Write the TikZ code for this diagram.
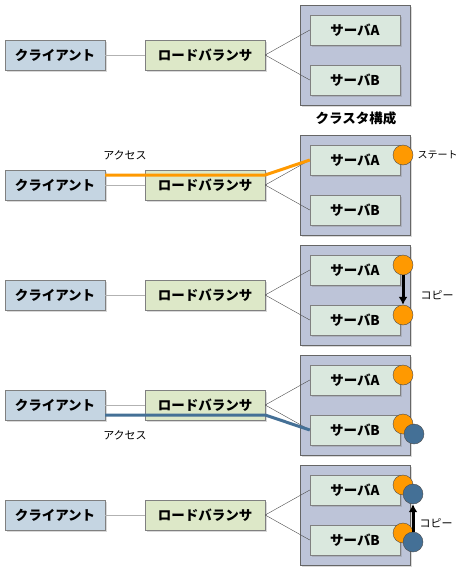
\documentclass[tikz,border=0pt]{standalone}
\usepackage{fontspec}
\setmainfont{Noto Sans CJK JP}
\usetikzlibrary{positioning, shadows, arrows.meta}

\definecolor{clientblue}{RGB}{197,213,226}
\definecolor{lbgreen}{RGB}{221,232,200}
\definecolor{servergreen}{RGB}{218,232,222}
\definecolor{clustergray}{RGB}{189,196,216}
\definecolor{stateorange}{RGB}{255,153,0}
\definecolor{stateblue}{RGB}{68,112,150}

\begin{document}
\begin{tikzpicture}[x=1pt, y=-1pt]
        \tikzstyle{box}=[rectangle, draw=gray, minimum height=30pt, font=\fontsize{13.5}{15}\selectfont\bfseries, drop shadow={shadow xshift=1.5pt, shadow yshift=-1.5pt, opacity=0.3}];
        \tikzstyle{state}=[circle, draw=black!70, minimum size=20pt, inner sep=0pt];
        \tikzstyle{label}=[font=\fontsize{11}{13}\selectfont];

        \useasboundingbox (0, 0) rectangle (460, 570);

        % five panels, same layout
        \foreach \i/\off in {1/0, 2/130, 3/240, 4/350, 5/460} {
        \node[box, fill=clientblue, minimum width=100pt] (c\i) at (55, 55+\off) {クライアント};
        \node[box, fill=lbgreen, minimum width=120pt] (lb\i) at (205, 55+\off) {ロードバランサ};
        \node[box, fill=clustergray, draw=gray!80!black, minimum width=110pt, minimum height=100pt] (cl\i) at (355, 55+\off) {};
        \node[box, fill=servergreen, minimum width=90pt] (sa\i) at (355, 30+\off) {サーバA};
        \node[box, fill=servergreen, minimum width=90pt] (sb\i) at (355, 80+\off) {サーバB};

        \draw[gray!60, thick] (c\i) -- (lb\i);
        \draw[black!70, thin] (lb\i.east) -- (sa\i.west);
        \draw[black!70, thin] (lb\i.east) -- (sb\i.west);
        }

        \node[font=\fontsize{13.5}{15}\selectfont\bfseries] (cltitle) at (356, 118) {クラスタ構成};

        % access to server A
        \draw[stateorange, line width=3pt] ([yshift=10pt]c2.east) -- ([yshift=10pt]lb2.east) -- (sa2.west);
        \node[label] (acc2) at (125, 155) {アクセス};
        \node[state, fill=stateorange] (st2a) at (403, 155) {};
        \node[label, font=\fontsize{10}{12}\selectfont, right=1pt of st2a] (stlabel) {ステート};

        % copy A to B
        \node[state, fill=stateorange] (st3a) at (403, 265) {};
        \node[state, fill=stateorange] (st3b) at (403, 315) {};
        \draw[-{Latex[length=8pt, width=9pt]}, line width=3pt] (st3a) -- (st3b);
        \node[label] (copy3) at (437, 295) {コピー};

        % access to server B
        \draw[stateblue, line width=3pt] ([yshift=-10pt]c4.east) -- ([yshift=-10pt]lb4.east) -- (sb4.west);
        \node[label] (acc4) at (125, 435) {アクセス};
        \node[state, fill=stateorange] (st4a) at (403, 375) {};
        \node[state, fill=stateorange] (st4b) at (403, 424) {};
        \node[state, fill=stateblue] (ss4b) at (414, 434) {};

        % copy B to A
        \node[state, fill=stateorange] (st5a) at (403, 485) {};
        \node[state, fill=stateblue] (ss5a) at (413, 494) {};
        \node[state, fill=stateorange] (st5b) at (403, 533) {};
        \node[state, fill=stateblue] (ss5b) at (413, 542) {};
        \draw[-{Latex[length=8pt, width=9pt]}, line width=3pt] (ss5b) -- (ss5a);
        \node[label] (copy5) at (436, 523) {コピー};
\end{tikzpicture}
\end{document}
